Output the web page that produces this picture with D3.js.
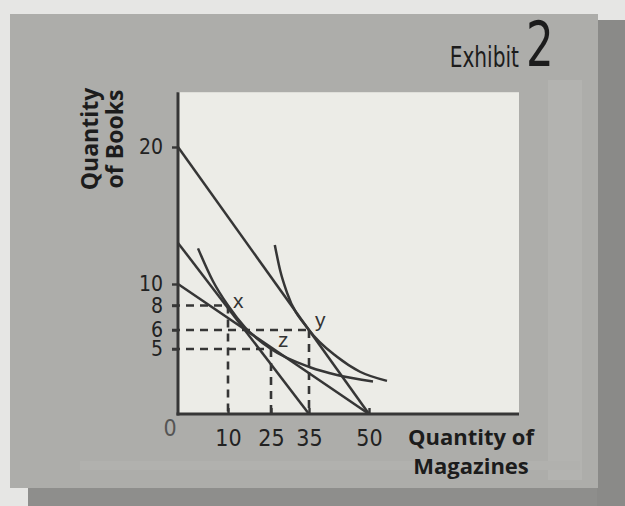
<!DOCTYPE html>
<html>
<head>
<meta charset="utf-8">
<script src="https://cdn.jsdelivr.net/npm/d3@7"></script>
<style>
  html, body { margin: 0; padding: 0; background: #e4e4e2; }
  svg { display: block; }
  .num { font-family: "Liberation Sans Narrow", "DejaVu Sans Condensed", "Liberation Sans", sans-serif; font-stretch: condensed; }
  .title { font-family: "Open Sans", "DejaVu Sans", sans-serif; font-weight: 700; }
</style>
</head>
<body>
<div id="chart"></div>
<script>
const xTicks = [10, 25, 35, 50];
const yTicks = [20, 10, 8, 6, 5];

// budget lines (magazines, books)
const budgetHigh = [[0, 20], [50, 0]];
const budgetMid = [[0, 13], [35, 0]];
const budgetLow = [[0, 10], [50, 0]];

// indifference curves
const curveOne = [[4, 12.6], [7, 10.2], [10, 8], [16, 6.2], [25, 5], [35.25, 3.6], [42, 3.0], [51, 2.5]];
const curveTwo = [[26, 12.85], [27.4, 11.0], [29.2, 9.2], [35, 6], [42, 4.4], [47.75, 3.25], [54.5, 2.55]];

// labelled bundles
const bundleNames = ["x", "y", "z"];
const bundleMags = [10, 35, 25];
const bundleBooks = [8, 6, 5];

const W = 625, H = 506;

const svg = d3.select("#chart")
  .append("svg")
  .attr("width", W)
  .attr("height", H);

// page / card background
svg.append("rect").attr("width", W).attr("height", H).attr("fill", "#e6e6e4");
svg.append("rect").attr("x", 28).attr("y", 486).attr("width", W - 28).attr("height", 20).attr("fill", "#8e8e8c");
svg.append("rect").attr("x", 597).attr("y", 20).attr("width", 28).attr("height", 486).attr("fill", "#8a8a88");
svg.append("rect").attr("x", 10).attr("y", 14).attr("width", 588).attr("height", 474).attr("fill", "#adadaa");
svg.append("rect").attr("x", 548).attr("y", 80).attr("width", 34).attr("height", 400).attr("fill", "#b3b3b0");
svg.append("rect").attr("x", 80).attr("y", 461).attr("width", 500).attr("height", 9).attr("fill", "#b1b1ae");

// the drawing is not to scale, so the axes are piecewise
const x = d3.scaleLinear().domain([0, 10, 25, 35, 50]).range([178, 228, 271, 309, 369]);
const y = d3.scaleLinear().domain([0, 5, 6, 8, 10, 20]).range([414, 349, 330, 305.5, 284, 147]);
const xMax = 87.5, yMax = 24;

// plot panel
svg.append("rect")
  .attr("x", x(0))
  .attr("y", y(yMax))
  .attr("width", x(xMax) - x(0))
  .attr("height", y(0) - y(yMax))
  .attr("fill", "#ecece7");

const ink = "#363636";

// dashed guides
const dash = svg.append("g")
  .attr("stroke", ink)
  .attr("stroke-width", 2.6)
  .attr("stroke-dasharray", "8,6")
  .attr("fill", "none");

bundleNames.forEach((n, i) => {
  dash.append("line")
    .attr("x1", x(0) - 6).attr("x2", x(bundleMags[i]))
    .attr("y1", y(bundleBooks[i])).attr("y2", y(bundleBooks[i]));
  dash.append("line")
    .attr("x1", x(bundleMags[i])).attr("x2", x(bundleMags[i]))
    .attr("y1", y(bundleBooks[i])).attr("y2", y(0));
});

// axes
const yAxis = svg.append("g")
  .attr("transform", `translate(${x(0)},0)`)
  .call(d3.axisLeft(y).tickValues(yTicks).tickSize(6).tickPadding(9));
yAxis.select(".domain").remove();
yAxis.selectAll(".tick line").attr("stroke", ink).attr("stroke-width", 2.4);
yAxis.selectAll("text").attr("class", "num").style("font-size", "21px").attr("fill", "#222");

const xAxis = svg.append("g")
  .attr("transform", `translate(0,${y(0)})`)
  .call(d3.axisBottom(x).tickValues(xTicks).tickSize(-6).tickPadding(16));
xAxis.select(".domain").remove();
xAxis.selectAll(".tick line").attr("stroke", ink).attr("stroke-width", 2.4);
xAxis.selectAll("text").attr("class", "num").style("font-size", "23px").attr("fill", "#222");

svg.append("text")
  .attr("class", "num")
  .attr("x", x(0) - 8)
  .attr("y", y(0) + 22)
  .attr("text-anchor", "middle")
  .style("font-size", "23px")
  .attr("fill", "#555")
  .text("0");

svg.append("line")
  .attr("x1", x(0)).attr("x2", x(0))
  .attr("y1", y(yMax)).attr("y2", y(0) + 1.5)
  .attr("stroke", ink).attr("stroke-width", 3);
svg.append("line")
  .attr("x1", x(0) - 1.5).attr("x2", x(xMax))
  .attr("y1", y(0)).attr("y2", y(0))
  .attr("stroke", ink).attr("stroke-width", 3);

// budget lines
const straight = d3.line().x(d => x(d[0])).y(d => y(d[1]));
[budgetHigh, budgetMid, budgetLow].forEach(b => {
  svg.append("path")
    .datum(b)
    .attr("d", straight)
    .attr("fill", "none")
    .attr("stroke", ink)
    .attr("stroke-width", 2.5);
});

// indifference curves
const smooth = d3.line().x(d => x(d[0])).y(d => y(d[1])).curve(d3.curveMonotoneX);
[curveOne, curveTwo].forEach(c => {
  svg.append("path")
    .datum(c)
    .attr("d", smooth)
    .attr("fill", "none")
    .attr("stroke", ink)
    .attr("stroke-width", 2.5);
});

// bundle letters
const letterShift = { x: [5, 2], y: [6, -3], z: [7, -2] };
bundleNames.forEach((n, i) => {
  svg.append("text")
    .attr("x", x(bundleMags[i]) + letterShift[n][0])
    .attr("y", y(bundleBooks[i]) + letterShift[n][1])
    .style("font-family", "'Liberation Sans', sans-serif")
    .style("font-size", "21px")
    .attr("fill", "#333")
    .text(n);
});

// axis titles
const xTitle = svg.append("text")
  .attr("class", "title")
  .attr("text-anchor", "middle")
  .style("font-size", "22px")
  .attr("fill", "#1c1c1c");
xTitle.append("tspan").attr("x", 471).attr("y", 445).text("Quantity of");
xTitle.append("tspan").attr("x", 471).attr("y", 474).text("Magazines");

const yTitle = svg.append("text")
  .attr("class", "title")
  .attr("text-anchor", "middle")
  .attr("transform", "translate(0,139) rotate(-90)")
  .style("font-size", "23px")
  .attr("fill", "#1c1c1c");
yTitle.append("tspan").attr("x", 0).attr("y", 98).text("Quantity");
yTitle.append("tspan").attr("x", 0).attr("y", 123).text("of Books");

// exhibit tag
svg.append("text")
  .attr("class", "num")
  .attr("transform", "translate(519,67) scale(0.8,1)")
  .attr("text-anchor", "end")
  .style("font-size", "28px")
  .attr("fill", "#1c1c1c")
  .text("Exhibit");
svg.append("text")
  .attr("class", "num")
  .attr("transform", "translate(526,66) scale(0.78,1)")
  .style("font-size", "62px")
  .attr("fill", "#1c1c1c")
  .text("2");
</script>
</body>
</html>
